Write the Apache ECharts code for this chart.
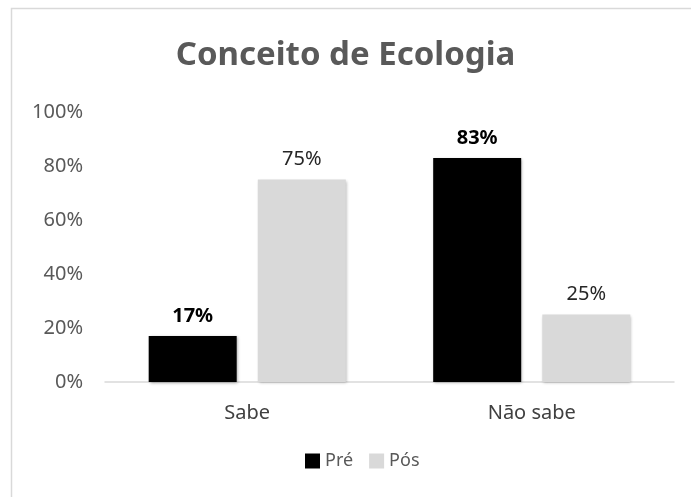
<!DOCTYPE html>
<html>
<head>
<meta charset="utf-8">
<script src="https://cdn.jsdelivr.net/npm/echarts@6/dist/echarts.min.js"></script>
<style>
    html, body { margin: 0; padding: 0; background: #fff; }
    #main { width: 691px; height: 497px; }
</style>
</head>
<body>
<div id="main"></div>
<script>
// dados do gráfico
let categories = ['Sabe', 'Não sabe']
let preValues = [17, 83]
let posValues = [75, 25]
let yTicks = [0, 20, 40, 60, 80, 100]

var chartDom = document.getElementById('main')
var myChart = echarts.init(chartDom)
var font = 'Noto Sans'
var option
option = {
    backgroundColor: '#fff',
    textStyle: { fontFamily: font },
    title: {
        text: 'Conceito de Ecologia',
        left: 'center',
        top: 34,
        textStyle: {
            fontFamily: font,
            fontSize: 33,
            fontWeight: 'bold',
            color: '#595959',
        },
    },
    graphic: [
        {
            type: 'rect',
            shape: { x: 11.5, y: 8.5, width: 700, height: 500 },
            style: { fill: 'none', stroke: '#d9d9d9', lineWidth: 1.5 },
            silent: true,
        },
    ],
    legend: {
        bottom: 22,
        left: 300,
        itemWidth: 15,
        itemHeight: 15,
        itemGap: 16,
        icon: 'rect',
        textStyle: { fontFamily: font, fontSize: 18, color: '#595959' },
        data: ['Pré', 'Pós'],
    },
    grid: {
        left: 105,
        right: 17,
        top: 112,
        bottom: 115,
    },
    xAxis: {
        type: 'category',
        data: categories,
        axisLine: { lineStyle: { color: '#d9d9d9', width: 1.5 } },
        axisTick: { show: false },
        axisLabel: {
            fontFamily: font,
            fontSize: 20,
            color: '#404040',
            margin: 21,
        },
    },
    yAxis: {
        type: 'value',
        min: yTicks[0],
        max: yTicks[yTicks.length - 1],
        interval: yTicks[1] - yTicks[0],
        splitLine: { show: false },
        axisLine: { show: false },
        axisTick: { show: false },
        axisLabel: {
            fontFamily: font,
            fontSize: 20,
            color: '#595959',
            margin: 22,
            formatter: '{value}%',
        },
    },
    series: [
        {
            name: 'Pré',
            type: 'bar',
            data: preValues,
            barWidth: 88,
            barGap: '24%',
            itemStyle: {
                color: '#000',
                shadowBlur: 3,
                shadowColor: 'rgba(0,0,0,0.35)',
                shadowOffsetX: 1,
                shadowOffsetY: 1,
            },
            label: {
                show: true,
                position: 'top',
                distance: 10,
                formatter: '{c}%',
                fontFamily: font,
                fontSize: 20,
                fontWeight: 'bold',
                color: '#000',
            },
        },
        {
            name: 'Pós',
            type: 'bar',
            data: posValues,
            barWidth: 88,
            itemStyle: {
                color: '#d9d9d9',
                shadowBlur: 3,
                shadowColor: 'rgba(0,0,0,0.3)',
                shadowOffsetX: 1,
                shadowOffsetY: 1,
            },
            label: {
                show: true,
                position: 'top',
                distance: 10,
                formatter: '{c}%',
                fontFamily: font,
                fontSize: 20,
                color: '#262626',
            },
        },
    ],
}
option && myChart.setOption(option)
</script>
</body>
</html>
